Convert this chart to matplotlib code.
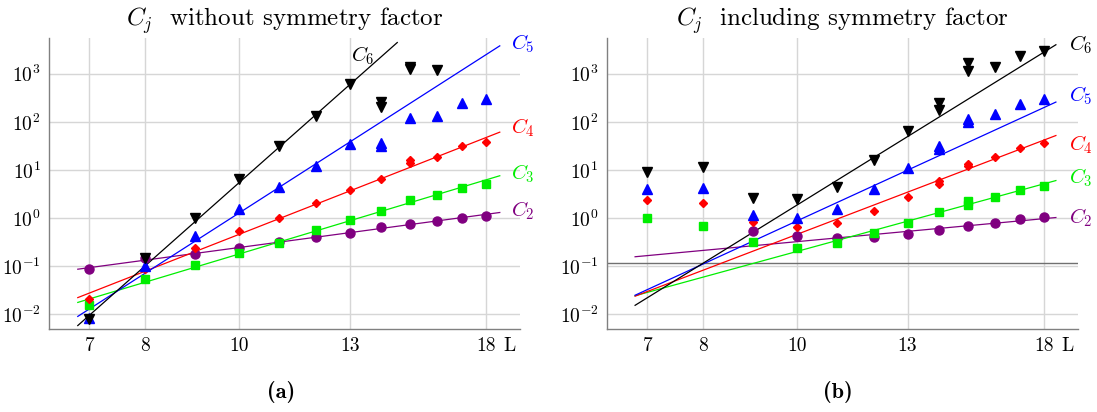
import matplotlib
matplotlib.use('Agg')
import matplotlib.pyplot as plt
import matplotlib.transforms as mtransforms
from matplotlib.ticker import FixedLocator, NullLocator, LogFormatterSciNotation

plt.rcParams['font.family'] = 'serif'
plt.rcParams['font.serif'] = ['cmr10']
plt.rcParams['mathtext.fontset'] = 'cm'
plt.rcParams['axes.formatter.use_mathtext'] = True

# ---- data ----
L_all = [7, 8, 9, 10, 11, 12, 13, 14, 15, 16, 17, 18]

# (a) without symmetry factor
a_c2_L = L_all
a_c2 = [0.088, 0.15, 0.178, 0.245, 0.32, 0.40, 0.50, 0.64, 0.77, 0.87, 1.0, 1.12]
a_c3_L = L_all
a_c3 = [0.0155, 0.055, 0.107, 0.193, 0.31, 0.56, 0.92, 1.42, 2.37, 3.0, 4.3, 5.2]
a_c4_L = [7, 8, 9, 10, 11, 12, 13, 14, 15, 15, 16, 17, 18]
a_c4 = [0.0205, 0.09, 0.237, 0.53, 1.0, 2.02, 3.9, 6.5, 16, 14, 18.6, 31, 37.8]
a_c5_L = [7, 8, 9, 10, 11, 12, 13, 14, 14, 15, 16, 17, 18]
a_c5 = [0.0085, 0.10, 0.43, 1.54, 4.4, 12.3, 34, 36.5, 31, 121, 135, 249, 300]
a_c6_L = [7, 8, 9, 10, 11, 12, 13, 14, 14, 15, 15, 16]
a_c6 = [0.0081, 0.15, 1.03, 6.5, 32, 135, 620, 257, 205, 1380, 1230, 1210]

# fitted lines (a): end points
a_fit_L = {'c2': [6.81, 18.58], 'c3': [6.81, 18.58], 'c4': [6.81, 18.58],
           'c5': [6.81, 18.58], 'c6': [6.81, 14.56]}
a_fit = {'c2': [0.0871, 1.31], 'c3': [0.0178, 7.59], 'c4': [0.0224, 61],
         'c5': [0.00912, 3776], 'c6': [0.00589, 4426]}

# (b) including symmetry factor
b_c2_L = [9, 10, 11, 12, 13, 14, 15, 16, 17, 18]
b_c2 = [0.53, 0.42, 0.38, 0.40, 0.48, 0.57, 0.69, 0.81, 0.95, 1.06]
b_c3_L = [7, 8, 9, 10, 11, 12, 13, 14, 15, 15, 16, 17, 18]
b_c3 = [0.99, 0.69, 0.32, 0.245, 0.31, 0.49, 0.79, 1.31, 2.3, 1.9, 2.8, 3.9, 4.7]
b_c4_L = [7, 8, 9, 10, 11, 12, 13, 14, 14, 15, 15, 16, 17, 18]
b_c4 = [2.4, 2.05, 0.84, 0.67, 0.81, 1.38, 2.8, 6.0, 5.2, 13.3, 12, 18.3, 28, 36.5]
b_c5_L = [7, 8, 9, 10, 11, 12, 13, 14, 14, 15, 15, 16, 17, 18]
b_c5 = [4.0, 4.2, 1.17, 1.03, 1.58, 4.0, 11.2, 32, 27.5, 112, 100, 142, 237, 300]
b_c6_L = [7, 8, 9, 10, 11, 12, 13, 14, 14, 15, 15, 16, 17, 18]
b_c6 = [8.9, 11.4, 2.57, 2.5, 4.5, 16.2, 66, 245, 178, 1670, 1140, 1380, 2340, 2970]

b_fit_L = {k: [6.8, 18.5] for k in ['c2', 'c3', 'c4', 'c5', 'c6']}
b_fit = {'c2': [0.158, 1.03], 'c3': [0.0245, 6.03], 'c4': [0.024, 51.9],
         'c5': [0.0251, 257], 'c6': [0.0155, 3981]}
b_hline = 0.117

# label positions
a_lab = {'c6': (13.4, 2400), 'c5': (19.1, 4270), 'c4': (19.1, 76.7),
         'c3': (19.1, 8.26), 'c2': (19.1, 1.42)}
b_lab = {'c6': (19.1, 4070), 'c5': (19.1, 355), 'c4': (19.1, 32.7),
         'c3': (19.1, 6.8), 'c2': (19.1, 1.0)}

xticks = [7, 8, 10, 13, 18]
yticks = [1e-2, 1e-1, 1e0, 1e1, 1e2, 1e3]

style = {
    'c2': dict(color='#800080', marker='o', ms=6.5, name='C_2'),
    'c3': dict(color='#00ee00', marker='s', ms=6.3, name='C_3'),
    'c4': dict(color='#ff0000', marker='D', ms=4.3, name='C_4'),
    'c5': dict(color='#0000ff', marker='^', ms=7, name='C_5'),
    'c6': dict(color='#000000', marker='v', ms=7, name='C_6'),
}


def setup(ax, title):
    ax.set_xscale('log')
    ax.set_yscale('log')
    ax.set_xlim(6.36, 19.5)
    ax.set_ylim(0.005, 5500)
    ax.xaxis.set_major_locator(FixedLocator(xticks))
    ax.xaxis.set_minor_locator(NullLocator())
    ax.set_xticklabels([str(t) for t in xticks])
    ax.yaxis.set_major_locator(FixedLocator(yticks))
    ax.yaxis.set_major_formatter(LogFormatterSciNotation())
    ax.yaxis.set_minor_locator(NullLocator())
    ax.tick_params(length=0, labelsize=14, pad=6)
    for s in ['top', 'right']:
        ax.spines[s].set_visible(False)
    for s in ['left', 'bottom']:
        ax.spines[s].set_color('#808080')
        ax.spines[s].set_linewidth(1.0)
    ax.grid(True, color='#d6d6d6', lw=1.0)
    ax.set_axisbelow(True)
    ax.set_title(title, fontsize=18, pad=9)
    trans = mtransforms.blended_transform_factory(ax.transData, ax.transAxes)
    trans = trans + mtransforms.ScaledTranslation(0, -6 / 72, ax.figure.dpi_scale_trans)
    ax.text(19.0, 0, 'L', transform=trans, ha='center', va='top', fontsize=14)


def draw(ax, data, fit_L, fit, lab, lab_ha):
    for key in ['c2', 'c3', 'c4', 'c5', 'c6']:
        st = style[key]
        ax.plot(fit_L[key], fit[key], color=st['color'], lw=0.9, zorder=2)
    for key in ['c2', 'c3', 'c4', 'c5', 'c6']:
        st = style[key]
        xs, ys = data[key]
        ax.plot(xs, ys, ls='none', marker=st['marker'], ms=st['ms'],
                color=st['color'], mec=st['color'], zorder=3)
        x, y = lab[key]
        ax.text(x, y, '$' + st['name'] + '$', color=st['color'], fontsize=15,
                ha=lab_ha.get(key, 'left'), va='center', clip_on=False)


fig = plt.figure(figsize=(10.97, 4.12), dpi=100)
ax1 = fig.add_axes([0.0447, 0.2015, 0.4294, 0.7063])
ax2 = fig.add_axes([0.5533, 0.2015, 0.4294, 0.7063])

setup(ax1, r'$C_j$  without symmetry factor')
setup(ax2, r'$C_j$  including symmetry factor')

draw(ax1, {'c2': (a_c2_L, a_c2), 'c3': (a_c3_L, a_c3), 'c4': (a_c4_L, a_c4),
           'c5': (a_c5_L, a_c5), 'c6': (a_c6_L, a_c6)},
     a_fit_L, a_fit, a_lab, {'c6': 'center'})

ax2.axhline(b_hline, color='#707070', lw=1.0, zorder=1.5)
draw(ax2, {'c2': (b_c2_L, b_c2), 'c3': (b_c3_L, b_c3), 'c4': (b_c4_L, b_c4),
           'c5': (b_c5_L, b_c5), 'c6': (b_c6_L, b_c6)},
     b_fit_L, b_fit, b_lab, {})

fig.text(0.256, 0.048, '(a)', family='cmb10', ha='center', va='center', fontsize=16)
fig.text(0.764, 0.048, '(b)', family='cmb10', ha='center', va='center', fontsize=16)

fig.savefig('out.png', dpi=100)
